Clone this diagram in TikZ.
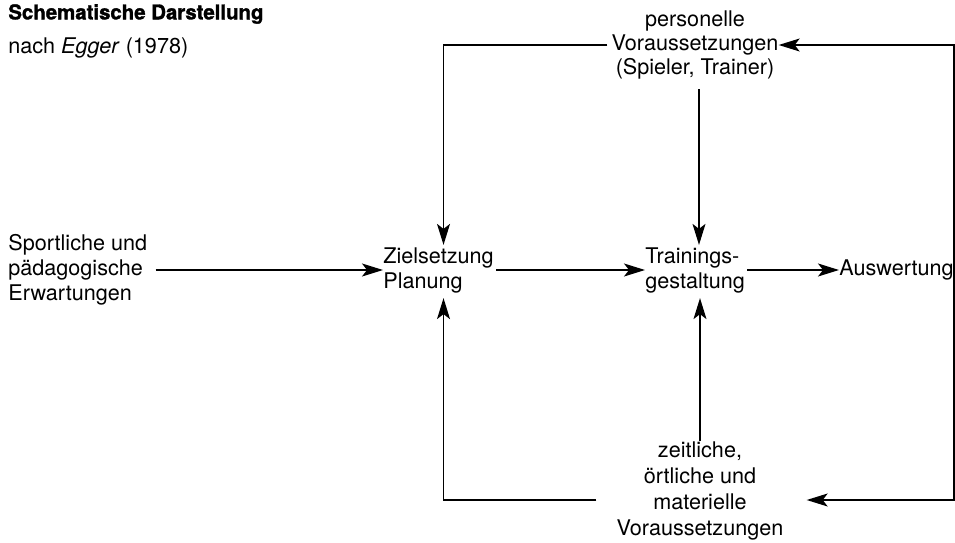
\documentclass[tikz,border=0pt]{standalone}
\usepackage{fontspec}
\setmainfont{TeX Gyre Heros}
\newfontfamily\headfont[FakeBold=1.5]{texgyreheros-bold.otf}
\usetikzlibrary{positioning, arrows.meta}

\begin{document}
\begin{tikzpicture}[x=0.5pt, y=-0.5pt, >={Stealth[length=10.5pt, width=6.5pt, inset=2.5pt]},
	txt/.style={inner sep=0pt, font=\fontsize{10.8}{12.5}\selectfont},
	conn/.style={line width=0.6pt}]
	\useasboundingbox (0, 0) rectangle (955, 542);

	\node[anchor=west, inner sep=0pt, font=\fontsize{10.2}{12}\headfont] (title) at (8, 14) {Schematische Darstellung};
	\node[txt, anchor=west] (source) at (8, 48) {nach \textit{Egger} (1978)};

	\node[txt, align=center, font=\fontsize{10.8}{11.8}\selectfont] (pers) at (695, 45) {personelle\\Voraussetzungen\\(Spieler, Trainer)};
	\node[txt, align=left, anchor=west] (sport) at (8, 270) {Sportliche und\\pädagogische\\Erwartungen};
	\node[txt, align=left, anchor=west] (ziel) at (383, 270) {Zielsetzung\\Planung};
	\node[txt, align=left, anchor=west] (train) at (645, 270) {Trainings-\\gestaltung};
	\node[txt, anchor=west] (ausw) at (839, 270) {Auswertung};
	\node[txt, align=center, font=\fontsize{10.8}{13}\selectfont] (zeit) at (700, 491) {zeitliche,\\örtliche und\\materielle\\Voraussetzungen};

	\draw [conn, ->, shorten <=4pt] (sport) -- (ziel);
	\draw [conn, ->, shorten <=1pt] (ziel) -- (train);
	\draw [conn, ->, shorten <=1pt] (train) -- (ausw);
	\draw [conn, ->, shorten <=2pt, shorten >=1pt] (pers.west) -| ([xshift=2.5pt]ziel.north);
	\draw [conn, ->, shorten <=5pt, shorten >=1pt] ([xshift=2pt]pers.south) -- ([xshift=2pt]pers.south |- train.north);
	\draw [conn, ->] (ausw.east) |- (pers.east);
	\draw [conn, ->, shorten >=11.5pt] (ausw.east) |- ([yshift=-4.5pt]zeit.east);
	\draw [conn, ->, shorten <=10pt, shorten >=2.5pt] ([yshift=-4.5pt]zeit.west) -| ([xshift=2.5pt]ziel.south);
	\draw [conn, ->, shorten >=2.5pt] (zeit.north) -- (zeit.north |- train.south);
\end{tikzpicture}
\end{document}
